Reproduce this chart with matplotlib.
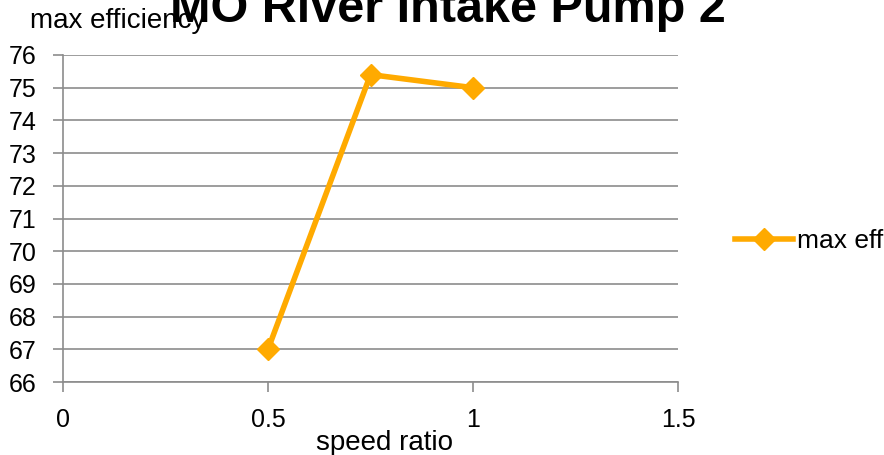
import matplotlib
matplotlib.use("Agg")
import matplotlib.pyplot as plt
from matplotlib.lines import Line2D

speed_ratio = [0.5, 0.75, 1.0]
max_eff = [67.0, 75.4, 75.0]
x_ticks = [0, 0.5, 1, 1.5]
x_tick_labels = ['0', '0.5', '1', '1.5']
y_ticks = list(range(66, 77))

plt.rcParams['font.family'] = ['Liberation Sans', 'DejaVu Sans']

fig = plt.figure(figsize=(8.84, 4.55), dpi=100)
ax = fig.add_axes([63/884, 1-382/455, (678-63)/884, (382-55)/455])

color = '#FFAA00'
ax.plot(speed_ratio, max_eff, color=color, lw=4, marker='D', ms=11,
        markerfacecolor=color, markeredgecolor=color, solid_joinstyle='miter')

ax.set_xlim(0, 1.5)
ax.set_ylim(66, 76)
ax.set_xticks(x_ticks)
ax.set_xticklabels(x_tick_labels)
ax.set_yticks(y_ticks)
ax.yaxis.grid(True, color='#8c8c8c', lw=1.2)
ax.set_axisbelow(True)
for s in ['top', 'right']:
    ax.spines[s].set_visible(False)
for s in ['left', 'bottom']:
    ax.spines[s].set_color('#8c8c8c')
    ax.spines[s].set_linewidth(1.2)
ax.tick_params(axis='both', colors='#8c8c8c', labelcolor='black', labelsize=18,
               length=7, width=1.2)
ax.tick_params(axis='x', pad=12)
ax.tick_params(axis='y', pad=12)

fig.text(385/884, 1-450/455, 'speed ratio', fontsize=20, ha='center', va='baseline')
fig.text(30/884, 1-28/455, 'max efficiency', fontsize=20, va='baseline', ha='left')
fig.text(448/884, 1-22/455, 'MO River Intake Pump 2', fontsize=35, fontweight='bold',
         ha='center', va='baseline')

handle = Line2D([], [], color=color, lw=4, marker='D', ms=11,
                markerfacecolor=color, markeredgecolor=color)
fig.legend([handle], ['max eff'], loc='center left', bbox_to_anchor=(735/884, 1-241/455),
           frameon=False, fontsize=19, handlelength=2.2, handletextpad=0.15,
           borderpad=0, borderaxespad=0)

fig.savefig('out.png', dpi=100)
